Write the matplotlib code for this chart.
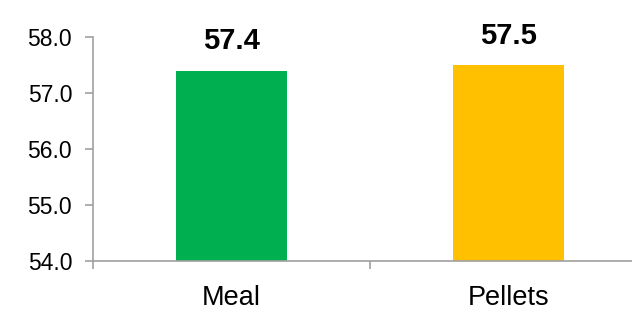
import numpy as np
from matplotlib import pyplot as plt

plt.rcParams['font.family'] = ['Liberation Sans', 'DejaVu Sans']

# chart data
categories = ['Meal', 'Pellets']
values = [57.4, 57.5]
bar_colors = ['#00B050', '#FFC000']
y_ticks = [54.0, 55.0, 56.0, 57.0, 58.0]

fig = plt.figure(figsize=(6.32, 3.10), dpi=100)
ax = fig.add_axes([93 / 632, 49 / 310, 554 / 632, 224 / 310])

X = np.arange(len(categories))
ax.bar(X, values, width=0.4, color=bar_colors, zorder=2)

for x, v in zip(X, values):
	ax.annotate('%.1f' % v, (x, v), xytext=(0, 11), textcoords='offset points',
				ha='center', va='bottom', fontsize=21, fontweight='bold')

ax.set_ylim(54, 58)
ax.set_xlim(-0.5, len(categories) - 0.5)
ax.set_yticks(y_ticks)
ax.set_yticklabels(['%.1f' % t for t in y_ticks], fontsize=16.5)

# category labels between boundary ticks
ax.set_xticks(np.arange(-0.5, len(categories), 1.0))
ax.set_xticklabels([])
ax.set_xticks(X, minor=True)
ax.set_xticklabels(categories, minor=True, fontsize=19.5)
ax.tick_params(axis='x', which='minor', length=0, pad=17)
ax.tick_params(axis='x', which='major', length=6, color='#A0A0A0', width=1.2)
ax.tick_params(axis='y', length=6, color='#A0A0A0', width=1.2, pad=9)

for side in ['top', 'right']:
	ax.spines[side].set_visible(False)
for side in ['left', 'bottom']:
	ax.spines[side].set_color('#A0A0A0')
	ax.spines[side].set_linewidth(1.2)

fig.savefig('out.png', dpi=100)
